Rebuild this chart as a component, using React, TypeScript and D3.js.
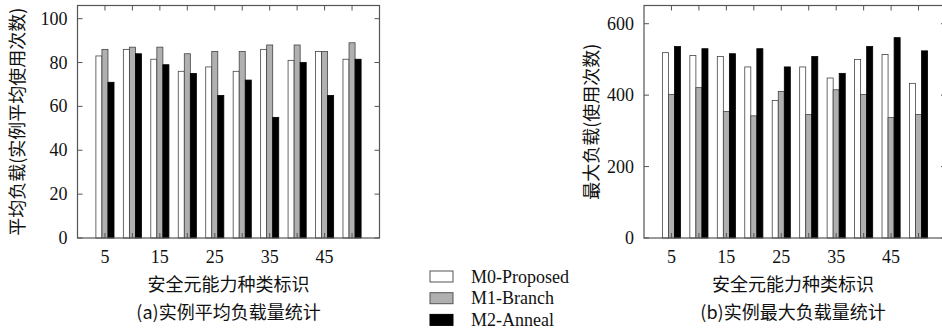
import React, { useEffect, useRef } from 'react';
import * as d3 from 'd3';

// x categories (安全元能力种类标识)
const categories = [5, 10, 15, 20, 25, 30, 35, 40, 45, 50];
const xTickLabels = [5, 15, 25, 35, 45];
const seriesNames = ['M0-Proposed', 'M1-Branch', 'M2-Anneal'];

// (a) 实例平均负载量统计
const avgM0 = [83, 86, 81.5, 76, 78, 76, 86, 81, 85, 81.5];
const avgM1 = [86, 87, 87, 84, 85, 85, 88, 88, 85, 89];
const avgM2 = [71, 84, 79, 75, 65, 72, 55, 80, 65, 81.5];
const avgTicks = [0, 20, 40, 60, 80, 100];

// (b) 实例最大负载量统计
const maxM0 = [519, 511, 508, 479, 385, 479, 448, 500, 514, 433];
const maxM1 = [402, 421, 354, 342, 410, 346, 415, 402, 337, 346];
const maxM2 = [536, 530, 516, 530, 479, 508, 461, 536, 561, 524];
const maxTicks = [0, 200, 400, 600];

const fills = ['#ffffff', '#b0b0b0', '#000000'];
const strokeCol = '#555';
const serif = '"Liberation Serif", "DejaVu Serif", serif';
const cjk = '"Noto Sans CJK SC", "Liberation Serif", serif';

type Panel = {
  left: number;
  right: number;
  yMax: number;
  series: number[][];
  ticks: number[];
  yTitle: string;
  yTitleX: number;
  caption: string;
};

const drawPanel = (svg: d3.Selection<SVGSVGElement, unknown, null, undefined>, p: Panel) => {
  const top = 5.5, bottom = 238;
  const x = d3.scaleLinear().domain([0, 55]).range([p.left, p.right]);
  const y = d3.scaleLinear().domain([0, p.yMax]).range([bottom, top]);
  const g = svg.append('g');
  const bw = 1.1;

  p.series.forEach((vals, si) => {
    g.selectAll(null)
      .data(vals)
      .enter()
      .append('rect')
      .attr('x', (d, i) => x(categories[i] + (si - 1) * bw - bw / 2))
      .attr('width', x(bw) - x(0))
      .attr('y', d => y(d))
      .attr('height', d => bottom - y(d))
      .attr('fill', fills[si])
      .attr('stroke', si === 2 ? '#000' : '#444')
      .attr('stroke-width', 0.8);
  });

  // frame
  g.append('rect')
    .attr('x', p.left).attr('y', top)
    .attr('width', p.right - p.left).attr('height', bottom - top)
    .attr('fill', 'none').attr('stroke', strokeCol).attr('stroke-width', 1.2);

  // y ticks (inward, mirrored)
  p.ticks.forEach(t => {
    g.append('line').attr('x1', p.left).attr('x2', p.left + 5)
      .attr('y1', y(t)).attr('y2', y(t)).attr('stroke', strokeCol);
    g.append('line').attr('x1', p.right).attr('x2', p.right - 5)
      .attr('y1', y(t)).attr('y2', y(t)).attr('stroke', strokeCol);
    g.append('text').attr('x', p.left - 10).attr('y', y(t) + 6)
      .attr('text-anchor', 'end').attr('font-family', serif).attr('font-size', 18)
      .attr('fill', '#111').text(t);
  });

  // x ticks
  categories.forEach(c => {
    g.append('line').attr('x1', x(c)).attr('x2', x(c))
      .attr('y1', top).attr('y2', top + 5).attr('stroke', strokeCol);
    g.append('line').attr('x1', x(c)).attr('x2', x(c))
      .attr('y1', bottom).attr('y2', bottom - 5).attr('stroke', strokeCol);
  });
  xTickLabels.forEach(c => {
    g.append('text').attr('x', x(c)).attr('y', 263)
      .attr('text-anchor', 'middle').attr('font-family', serif).attr('font-size', 18)
      .attr('fill', '#111').text(c);
  });

  const mid = (x(0) + x(55)) / 2;
  const mid2 = Math.min(mid, (p.left + 942) / 2);
  g.append('text').attr('x', mid2).attr('y', 291)
    .attr('text-anchor', 'middle').attr('font-family', cjk).attr('font-size', 18)
    .attr('fill', '#111').text('安全元能力种类标识');
  g.append('text').attr('x', mid2).attr('y', 319)
    .attr('text-anchor', 'middle').attr('font-family', cjk).attr('font-size', 18)
    .attr('fill', '#111').text(p.caption);

  g.append('text')
    .attr('transform', `translate(${p.yTitleX},${(top + bottom) / 2}) rotate(-90)`)
    .attr('text-anchor', 'middle').attr('font-family', cjk).attr('font-size', 18)
    .attr('fill', '#111').text(p.yTitle);
};

const App = () => {
  const ref = useRef<SVGSVGElement>(null);
  useEffect(() => {
    const svg = d3.select(ref.current as SVGSVGElement);
    svg.selectAll('*').remove();

    drawPanel(svg, {
      left: 77.5, right: 379.5, yMax: 106, series: [avgM0, avgM1, avgM2],
      ticks: avgTicks, yTitle: '平均负载(实例平均使用次数)', yTitleX: 24,
      caption: '(a)实例平均负载量统计'
    });
    drawPanel(svg, {
      left: 644, right: 946, yMax: 651, series: [maxM0, maxM1, maxM2],
      ticks: maxTicks, yTitle: '最大负载(使用次数)', yTitleX: 598,
      caption: '(b)实例最大负载量统计'
    });

    // legend
    const lg = svg.append('g');
    seriesNames.forEach((name, i) => {
      const cy = 276.5 + i * 21.7;
      lg.append('rect').attr('x', 430).attr('y', cy - 5.5).attr('width', 23).attr('height', 11)
        .attr('fill', fills[i]).attr('stroke', i === 2 ? '#000' : '#555').attr('stroke-width', 1);
      lg.append('text').attr('x', 471).attr('y', cy + 6)
        .attr('font-family', serif).attr('font-size', 18).attr('fill', '#111').text(name);
    });
  }, []);

  return (
    <div style={{ position: 'absolute', left: 0, top: 0 }}>
      <svg ref={ref} width={942} height={333} style={{ display: 'block', background: '#fff' }} />
    </div>
  );
};

export default App;
